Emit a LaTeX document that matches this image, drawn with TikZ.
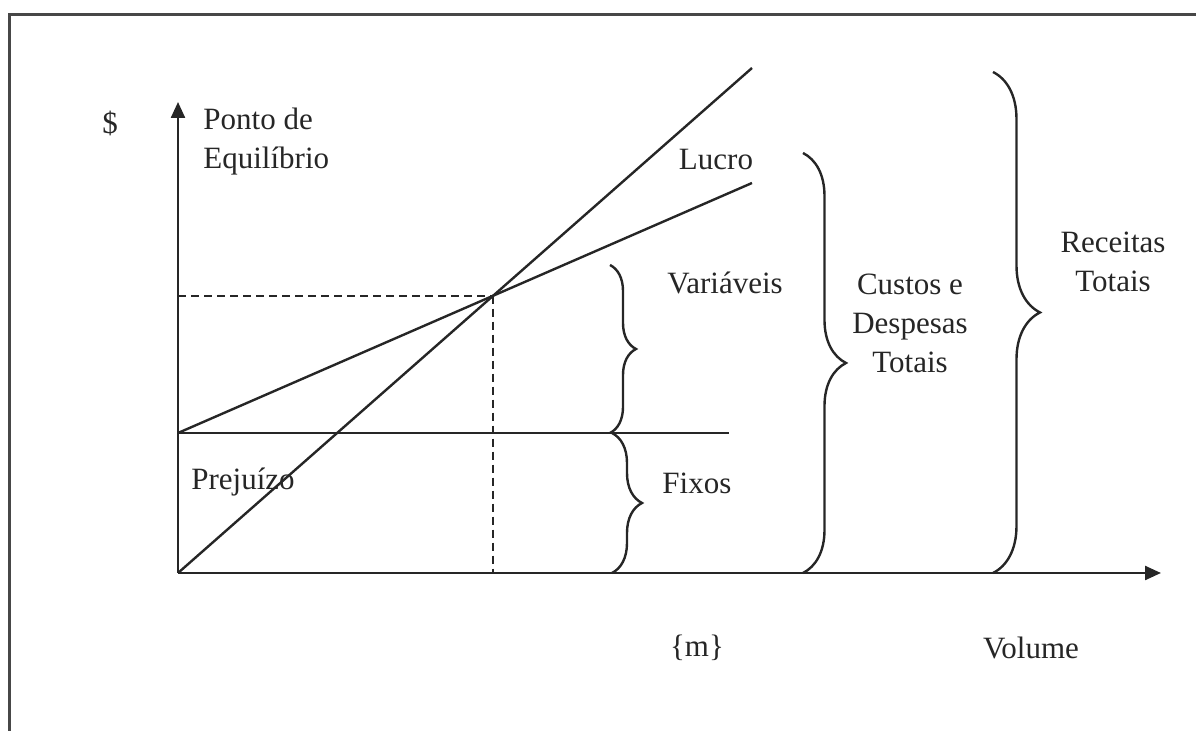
\documentclass[tikz,border=0pt]{standalone}
\usepackage{fontspec}
\setmainfont{Liberation Serif}
\usetikzlibrary{decorations.pathreplacing,intersections,arrows.meta}
\begin{document}
\begin{tikzpicture}[x=0.5pt,y=-0.5pt,
  ln/.style={line width=1.2pt, draw=black!85},
  lbl/.style={font=\fontsize{15.5}{19.5}\selectfont, text=black!85, inner sep=0pt, align=center},
  brc/.style={ln, decorate, decoration={brace, amplitude=#1}},
  axisarrow/.style={ln, -{Triangle[length=8pt,width=7pt]}},
  dsh/.style={line width=1pt, draw=black!85, dash pattern=on 4pt off 2.5pt}]
\useasboundingbox (0,0) rectangle (1196,731);
% frame
\coordinate (fr1) at (1196,15);
\coordinate (fr2) at (9,15);
\coordinate (fr3) at (9,731);
\draw[line width=1.5pt, draw=black!72] (fr1) -- (fr2) -- (fr3);
% key points
\coordinate (O) at (178,573);
\coordinate (ytop) at (178,102);
\coordinate (xend) at (1161,573);
\coordinate (F0) at (178,433);
\coordinate (F1) at (729,433);
\coordinate (R1) at (752,68);
\coordinate (C1) at (752,183);
% axes
\draw[axisarrow] (O) -- (ytop);
\draw[axisarrow] (O) -- (xend);
% lines
\draw[ln] (F0) -- (F1);
\draw[ln, name path=rev] (O) -- (R1);
\draw[ln, name path=cost] (F0) -- (C1);
\path[name intersections={of=rev and cost, by=E}];
\coordinate (Ey) at (O |- E);
\coordinate (Ex) at (E |- O);
\draw[dsh] (Ey) -- (E);
\draw[dsh] (E) -- (Ex);
% braces
\coordinate (bv1) at (610,265);
\coordinate (bv2) at (610,433);
\coordinate (bf1) at (612,433);
\coordinate (bf2) at (612,573);
\coordinate (bc1) at (803,153);
\coordinate (bc2) at (803,573);
\coordinate (br1) at (993,72);
\coordinate (br2) at (993,573);
\draw[brc=13pt] (bv1) -- (bv2);
\draw[brc=15pt] (bf1) -- (bf2);
\draw[brc=21.5pt] (bc1) -- (bc2);
\draw[ln, decorate, decoration={brace, amplitude=23.5pt, aspect=0.48}] (br1) -- (br2);
% labels
\node[lbl] (dol) at (110,123) {\$};
\node[lbl, anchor=west, align=left] (pe) at (203,142) {Ponto de\\Equilíbrio};
\node[lbl] (luc) at (716,160) {Lucro};
\node[lbl] (var) at (725,283) {Variáveis};
\node[lbl] (cdt) at (910,323) {Custos e\\Despesas\\Totais};
\node[lbl] (rt) at (1113,262) {Receitas\\Totais};
\node[lbl, anchor=west] (prj) at (191,482) {Prejuízo};
\node[lbl, anchor=west] (fix) at (662,483) {Fixos};
\node[lbl] (m) at (697,648) {\{m\}};
\node[lbl] (vol) at (1031,648) {Volume};
\end{tikzpicture}
\end{document}
